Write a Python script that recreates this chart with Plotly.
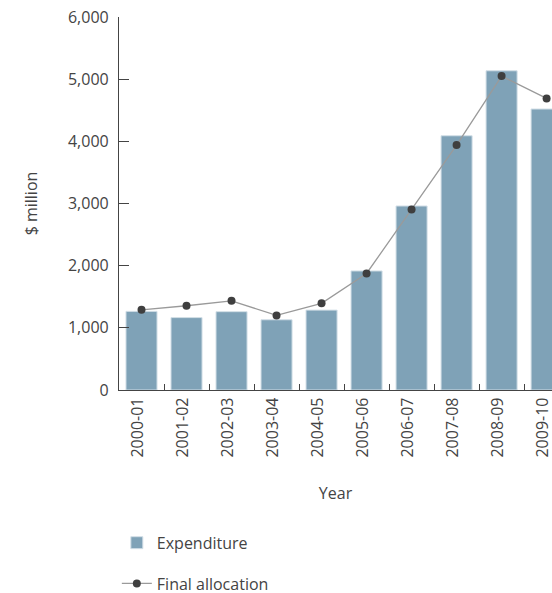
import plotly.graph_objects as go

years = ["2000-01", "2001-02", "2002-03", "2003-04", "2004-05",
         "2005-06", "2006-07", "2007-08", "2008-09", "2009-10"]
expenditure = [1265, 1165, 1260, 1130, 1285, 1915, 2960, 4090, 5135, 4520]
final_allocation = [1290, 1355, 1435, 1200, 1395, 1875, 2905, 3940, 5050, 4690]

FONT = "Open Sans"
TXT = "#444444"

fig = go.Figure()
fig.add_trace(go.Bar(
    x=years, y=expenditure, name="Expenditure",
    marker=dict(color="#7fa2b7", line=dict(color="#d3dfe7", width=1)),
    legendgroup="a",
))
fig.add_trace(go.Scatter(
    x=years, y=final_allocation, name="Final allocation",
    mode="lines+markers",
    line=dict(color="#9a9a9a", width=1.3),
    marker=dict(color="#3f3f3f", size=8),
    cliponaxis=False, legendgroup="b",
))

fig.update_layout(
    width=552, height=593,
    margin=dict(l=119, r=0, t=17, b=203, autoexpand=False),
    paper_bgcolor="white", plot_bgcolor="white",
    font=dict(family=FONT, size=16, color=TXT),
    bargap=0.31,
    showlegend=True,
    legend=dict(
        x=-0.005, xanchor="left", y=-0.364, yanchor="top",
        traceorder="grouped", tracegroupgap=17,
        font=dict(size=16, color=TXT),
        itemwidth=30,
    ),
    xaxis=dict(
        type="category", range=[-0.5, 9.12],
        tickangle=-90, ticks="inside", tickson="boundaries",
        ticklen=6, tickcolor="#444", tickwidth=1.2,
        showline=True, linecolor="#444", linewidth=1.2,
        layer="below traces", showgrid=False,
        automargin=True,
        ticklabeloverflow="allow",
        ticklabelshift=-4,
        tickfont=dict(size=16, color=TXT),
        title=dict(text="Year", standoff=31, font=dict(size=16, color=TXT)),
    ),
    yaxis=dict(
        range=[0, 6000], dtick=1000, tickformat=",",
        ticks="inside", ticklen=10, tickcolor="#444", tickwidth=1.2,
        showline=True, linecolor="#444", linewidth=1.2,
        showgrid=False, zeroline=False,
        automargin=True,
        ticklabeloverflow="allow",
        ticklabelstandoff=6,
        tickfont=dict(size=16, color=TXT),
        title=dict(text="$ million", standoff=26, font=dict(size=16, color=TXT)),
    ),
)

# remove the page's default 8px body margin so the figure fills the window exactly
fig.write_html(
    "out.html",
    config={"displayModeBar": False},
    post_script="document.body.style.margin='0';document.body.style.overflow='hidden';",
)
